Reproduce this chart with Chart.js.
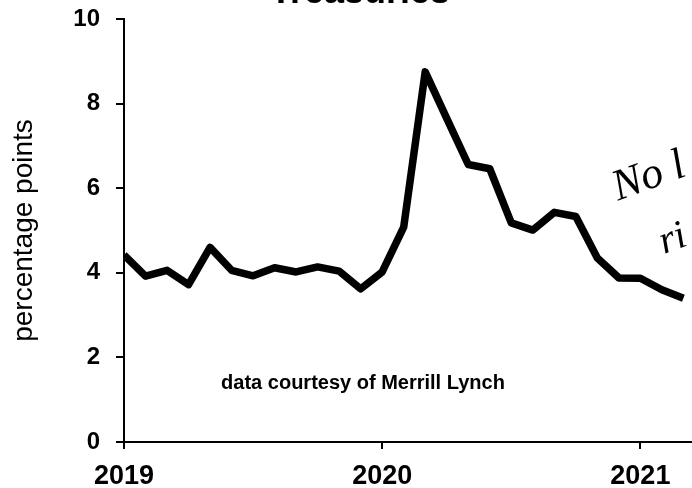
<!DOCTYPE html>
<html>
<head>
<meta charset="utf-8">
<script src="https://cdn.jsdelivr.net/npm/chart.js@4.4.1/dist/chart.umd.min.js"></script>
<style>
  body { margin: 0; background: #fff; }
  canvas { display: block; }
</style>
</head>
<body>
<canvas id="chart-treasuries" width="692" height="488"></canvas>
<script>
// monthly spread, Jan 2019 .. Mar 2021
const months = ['2019-01','2019-02','2019-03','2019-04','2019-05','2019-06','2019-07','2019-08','2019-09','2019-10','2019-11','2019-12',
                '2020-01','2020-02','2020-03','2020-04','2020-05','2020-06','2020-07','2020-08','2020-09','2020-10','2020-11','2020-12',
                '2021-01','2021-02','2021-03'];
const spread = [4.42, 3.92, 4.06, 3.72, 4.60, 4.06, 3.93, 4.12, 4.02, 4.14, 4.04, 3.62,
                4.02, 5.08, 8.75, 7.65, 6.56, 6.46, 5.18, 5.01, 5.43, 5.33, 4.35, 3.88,
                3.87, 3.60, 3.40];
const yearTicks = [0, 12, 24];
const yearLabels = ['2019', '2020', '2021'];
const yTicks = [0, 2, 4, 6, 8, 10];

const textPlugin = {
	id: 'extraText',
	afterDraw: function (chart) {
		const ctx = chart.ctx;
		ctx.save();
		ctx.fillStyle = '#000';
		ctx.textAlign = 'center';
		ctx.textBaseline = 'alphabetic';
		ctx.font = 'bold 36px "Liberation Sans", Arial, sans-serif';
		ctx.fillText('Treasuries', 360, 3);

		ctx.textBaseline = 'middle';
		ctx.font = 'bold 20px "Liberation Sans", Arial, sans-serif';
		ctx.fillText('data courtesy of Merrill Lynch', 363, 383);

		// handwritten note on the right
		ctx.font = 'italic 44px "Liberation Serif", serif';
		ctx.textAlign = 'left';
		ctx.translate(614, 190);
		ctx.rotate(-0.35);
		ctx.fillText('No l', 0, 0);
		ctx.restore();

		ctx.save();
		ctx.fillStyle = '#000';
		ctx.font = 'italic 40px "Liberation Serif", serif';
		ctx.translate(664, 254);
		ctx.rotate(-0.35);
		ctx.fillText("ri", 0, 0);
		ctx.restore();
	}
};

const ctx = document.getElementById('chart-treasuries').getContext('2d');
new Chart(ctx, {
	type: 'line',
	data: {
		datasets: [{
			label: 'Treasuries',
			data: spread.map(function (v, i) { return { x: i, y: v }; }),
			borderColor: '#000',
			borderWidth: 7.5,
			borderJoinStyle: 'round',
			borderCapStyle: 'butt',
			pointRadius: 0,
			tension: 0,
			fill: false
		}]
	},
	options: {
		responsive: false,
		animation: false,
		devicePixelRatio: 1,
		layout: { padding: { top: 19, right: 0, left: 0, bottom: 0 } },
		plugins: {
			legend: { display: false },
			tooltip: { enabled: false }
		},
		scales: {
			x: {
				type: 'linear',
				min: 0,
				max: 26.4,
				afterBuildTicks: function (scale) {
					scale.ticks = yearTicks.map(function (v) { return { value: v }; });
				},
				afterFit: function (scale) {
					scale.height = 46;
					scale.paddingLeft = 0;
					scale.paddingRight = 0;
				},
				border: { display: true, color: '#000', width: 2 },
				grid: { drawOnChartArea: false, drawTicks: true, tickLength: 7, color: '#000', lineWidth: 2 },
				ticks: {
					color: '#000',
					padding: 11,
					maxRotation: 0,
					autoSkip: false,
					font: { family: '"Liberation Sans", Arial, sans-serif', size: 27, weight: 'bold' },
					callback: function (v) {
						const i = yearTicks.indexOf(v);
						return i >= 0 ? yearLabels[i] : '';
					}
				}
			},
			y: {
				min: 0,
				max: 10,
				afterBuildTicks: function (scale) {
					scale.ticks = yTicks.map(function (v) { return { value: v }; });
				},
				afterFit: function (scale) {
					scale.width = 124;
					scale.paddingTop = 0;
					scale.paddingBottom = 0;
				},
				border: { display: true, color: '#000', width: 2 },
				grid: { drawOnChartArea: false, drawTicks: true, tickLength: 8, color: '#000', lineWidth: 2 },
				title: {
					display: true,
					text: 'percentage points',
					color: '#000',
					padding: { top: 7, bottom: 0 },
					font: { family: '"Liberation Sans", Arial, sans-serif', size: 28 }
				},
				ticks: {
					color: '#000',
					padding: 16,
					font: { family: '"Liberation Sans", Arial, sans-serif', size: 24, weight: 'bold' }
				}
			}
		}
	},
	plugins: [textPlugin]
});
</script>
</body>
</html>
